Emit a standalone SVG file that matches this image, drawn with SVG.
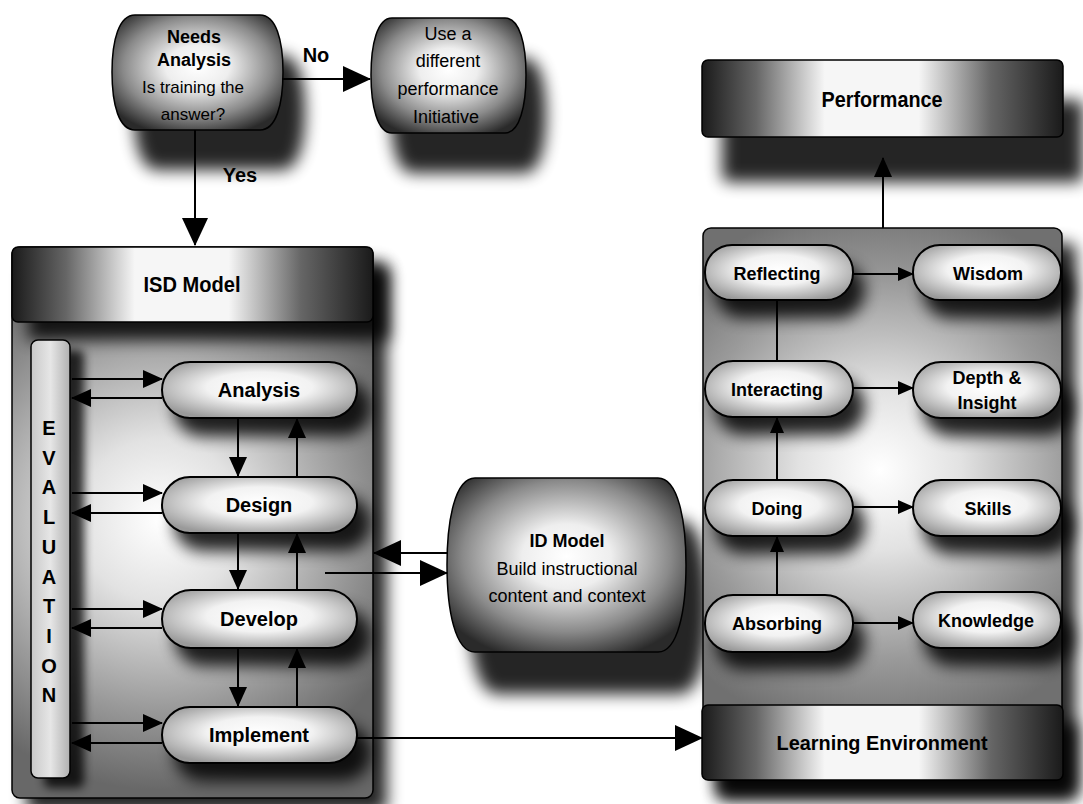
<svg xmlns="http://www.w3.org/2000/svg" width="1083" height="804" viewBox="0 0 1083 804">
<style>
.t{font-family:"Liberation Sans",Arial,Helvetica,sans-serif;fill:#000;text-anchor:middle}
.b{font-weight:bold}
.ln{stroke:#000;stroke-width:2;fill:none}
.pill{fill:url(#pillG);stroke:#000;stroke-width:2}
.brl{fill:url(#barrelG);stroke:#000;stroke-width:1.5}
.hdr{fill:url(#hdrG);stroke:#000;stroke-width:1.5}
.sh{fill:#000;filter:url(#blur);opacity:.85}
.sh2{fill:#000;filter:url(#blur2);opacity:.8}
</style>
<defs>
<filter id="blur" x="-30%" y="-30%" width="160%" height="160%"><feGaussianBlur stdDeviation="8"/></filter>
<filter id="blur2" x="-30%" y="-30%" width="160%" height="160%"><feGaussianBlur stdDeviation="5"/></filter>
<radialGradient id="pillG" cx="0.5" cy="0.45" r="0.6"><stop offset="0" stop-color="#fff"/><stop offset="0.45" stop-color="#f2f2f2"/><stop offset="1" stop-color="#9a9a9a"/></radialGradient>
<radialGradient id="barrelG" cx="0.5" cy="0.45" r="0.62"><stop offset="0" stop-color="#fff"/><stop offset="0.3" stop-color="#eee"/><stop offset="0.7" stop-color="#8a8a8a"/><stop offset="1" stop-color="#2a2a2a"/></radialGradient>
<linearGradient id="hdrG" x1="0" y1="0" x2="1" y2="0"><stop offset="0" stop-color="#1a1a1a"/><stop offset="0.15" stop-color="#666"/><stop offset="0.34" stop-color="#f6f6f6"/><stop offset="0.6" stop-color="#f6f6f6"/><stop offset="0.8" stop-color="#666"/><stop offset="1" stop-color="#1a1a1a"/></linearGradient>
<linearGradient id="evalG" x1="0" y1="0" x2="1" y2="0"><stop offset="0" stop-color="#c8c8c8"/><stop offset="0.5" stop-color="#e6e6e6"/><stop offset="1" stop-color="#b0b0b0"/></linearGradient>
<radialGradient id="isdBg" gradientUnits="userSpaceOnUse" cx="160" cy="520" r="270"><stop offset="0" stop-color="#fff"/><stop offset="0.3" stop-color="#e2e2e2"/><stop offset="0.7" stop-color="#9a9a9a"/><stop offset="1" stop-color="#686868"/></radialGradient>
<radialGradient id="rBg" gradientUnits="userSpaceOnUse" cx="880" cy="470" r="270"><stop offset="0" stop-color="#fff"/><stop offset="0.3" stop-color="#e2e2e2"/><stop offset="0.7" stop-color="#9a9a9a"/><stop offset="1" stop-color="#707070"/></radialGradient>
<marker id="ab" markerUnits="userSpaceOnUse" markerWidth="28" markerHeight="26" viewBox="0 0 28 26" refX="27" refY="13" orient="auto"><path d="M0,0L28,13L0,26z"/></marker>
<marker id="am" markerUnits="userSpaceOnUse" markerWidth="20" markerHeight="18" viewBox="0 0 20 18" refX="19" refY="9" orient="auto"><path d="M0,0L20,9L0,18z"/></marker>
<marker id="as" markerUnits="userSpaceOnUse" markerWidth="16" markerHeight="14" viewBox="0 0 16 14" refX="15" refY="7" orient="auto"><path d="M0,0L16,7L0,14z"/></marker>
</defs>
<rect width="1083" height="804" fill="#fff"/>

<g id="needs-analysis">
<path class="sh" transform="translate(22,40)" d="M135 15H260C276 15 283 40 283 72C283 105 276 130 260 130H135C119 130 112 105 112 72C112 40 119 15 135 15Z"/>
<path class="brl" d="M135 15H260C276 15 283 40 283 72C283 105 276 130 260 130H135C119 130 112 105 112 72C112 40 119 15 135 15Z"/>
<text class="t b" x="194" y="43" font-size="18">Needs</text>
<text class="t b" x="194" y="66" font-size="18">Analysis</text>
<text class="t" x="193" y="93" font-size="17">Is training the</text>
<text class="t" x="193" y="120" font-size="17">answer?</text>
</g>

<g id="different-initiative">
<path class="sh" transform="translate(20,40)" d="M392 18H505C520 18 526 45 526 75C526 105 520 133 505 133H392C377 133 371 105 371 75C371 45 377 18 392 18Z"/>
<path class="brl" d="M392 18H505C520 18 526 45 526 75C526 105 520 133 505 133H392C377 133 371 105 371 75C371 45 377 18 392 18Z"/>
<text class="t" x="448" y="40" font-size="18">Use a</text>
<text class="t" x="448" y="67" font-size="18">different</text>
<text class="t" x="448" y="95" font-size="18">performance</text>
<text class="t" x="446" y="123" font-size="18">Initiative</text>
</g>

<g id="isd-model">
<rect class="sh" x="26" y="262" width="361" height="551" rx="8" opacity=".6"/>
<rect x="12" y="247" width="361" height="551" rx="8" fill="url(#isdBg)" stroke="#000" stroke-width="1.5"/>
<rect class="sh" x="28" y="268" width="361" height="72"/>
<rect class="hdr" x="12" y="247" width="361" height="75" rx="6"/>
<text class="t b" x="192" y="292" font-size="22" textLength="97" lengthAdjust="spacingAndGlyphs">ISD Model</text>
</g>

<g id="evaluation">
<rect class="sh2" x="44" y="350" width="40" height="438" rx="6"/>
<rect x="31" y="340" width="39" height="438" rx="7" fill="url(#evalG)" stroke="#000" stroke-width="1.5"/>
<text class="t b" x="49" font-size="20"><tspan x="49" y="435">E</tspan><tspan x="49" y="465">V</tspan><tspan x="49" y="494">A</tspan><tspan x="49" y="524">L</tspan><tspan x="49" y="554">U</tspan><tspan x="49" y="584">A</tspan><tspan x="49" y="613">T</tspan><tspan x="49" y="643">I</tspan><tspan x="49" y="673">O</tspan><tspan x="49" y="702">N</tspan></text>
</g>

<g id="analysis">
<rect class="sh" x="174" y="380" width="197" height="56" rx="28"/>
<rect class="pill" x="162" y="362" width="195" height="56" rx="28"/>
<text class="t b" x="259" y="397" font-size="20">Analysis</text>
</g>
<g id="design">
<rect class="sh" x="174" y="495" width="197" height="56" rx="28"/>
<rect class="pill" x="162" y="477" width="195" height="56" rx="28"/>
<text class="t b" x="259" y="512" font-size="20">Design</text>
</g>
<g id="develop">
<rect class="sh" x="174" y="608" width="197" height="58" rx="29"/>
<rect class="pill" x="162" y="590" width="195" height="58" rx="29"/>
<text class="t b" x="259" y="626" font-size="20">Develop</text>
</g>
<g id="implement">
<rect class="sh" x="174" y="725" width="197" height="56" rx="28"/>
<rect class="pill" x="162" y="707" width="195" height="56" rx="28"/>
<text class="t b" x="259" y="742" font-size="20">Implement</text>
</g>

<g id="id-model">
<path class="sh" transform="translate(22,42)" d="M475 478H658C678 478 686 520 686 565C686 610 678 652 658 652H475C455 652 447 610 447 565C447 520 455 478 475 478Z"/>
<path class="brl" d="M475 478H658C678 478 686 520 686 565C686 610 678 652 658 652H475C455 652 447 610 447 565C447 520 455 478 475 478Z"/>
<text class="t b" x="567" y="547" font-size="18">ID Model</text>
<text class="t" x="567" y="575" font-size="18">Build instructional</text>
<text class="t" x="567" y="602" font-size="18">content and context</text>
</g>

<g id="performance">
<rect class="sh" x="722" y="100" width="361" height="82" rx="6"/>
<rect class="hdr" x="702" y="60" width="361" height="77" rx="6"/>
<text class="t b" x="882" y="107" font-size="22" textLength="121" lengthAdjust="spacingAndGlyphs">Performance</text>
</g>

<g id="learning-container">
<rect class="sh" x="717" y="243" width="359" height="552" rx="8" opacity=".6"/>
<rect x="703" y="228" width="359" height="552" rx="8" fill="url(#rBg)" stroke="#000" stroke-width="1.5"/>
</g>

<g id="reflecting">
<rect class="sh" x="715" y="263" width="150" height="55" rx="27"/>
<rect class="pill" x="705" y="245" width="148" height="55" rx="27"/>
<text class="t b" x="777" y="280" font-size="18">Reflecting</text>
</g>
<g id="wisdom">
<rect class="sh" x="923" y="263" width="150" height="55" rx="27"/>
<rect class="pill" x="913" y="245" width="148" height="55" rx="27"/>
<text class="t b" x="988" y="280" font-size="18">Wisdom</text>
</g>
<g id="interacting">
<rect class="sh" x="715" y="379" width="150" height="56" rx="28"/>
<rect class="pill" x="705" y="361" width="148" height="56" rx="28"/>
<text class="t b" x="777" y="396" font-size="18">Interacting</text>
</g>
<g id="depth-insight">
<rect class="sh" x="923" y="380" width="150" height="56" rx="28"/>
<rect class="pill" x="913" y="362" width="148" height="56" rx="28"/>
<text class="t b" x="987" y="384" font-size="18">Depth &amp;</text>
<text class="t b" x="987" y="409" font-size="18">Insight</text>
</g>
<g id="doing">
<rect class="sh" x="715" y="498" width="150" height="56" rx="28"/>
<rect class="pill" x="705" y="480" width="148" height="56" rx="28"/>
<text class="t b" x="777" y="515" font-size="18">Doing</text>
</g>
<g id="skills">
<rect class="sh" x="923" y="498" width="150" height="56" rx="28"/>
<rect class="pill" x="913" y="480" width="148" height="56" rx="28"/>
<text class="t b" x="988" y="515" font-size="18">Skills</text>
</g>
<g id="absorbing">
<rect class="sh" x="715" y="613" width="150" height="57" rx="28"/>
<rect class="pill" x="705" y="595" width="148" height="57" rx="28"/>
<text class="t b" x="777" y="630" font-size="18">Absorbing</text>
</g>
<g id="knowledge">
<rect class="sh" x="923" y="610" width="150" height="56" rx="28"/>
<rect class="pill" x="913" y="592" width="148" height="56" rx="28"/>
<text class="t b" x="986" y="627" font-size="18">Knowledge</text>
</g>

<g id="learning-environment">
<rect class="sh" x="717" y="722" width="361" height="78" rx="6"/>
<rect class="hdr" x="702" y="705" width="361" height="75" rx="6"/>
<text class="t b" x="882" y="750" font-size="21" textLength="211" lengthAdjust="spacingAndGlyphs">Learning Environment</text>
</g>

<g id="connectors">
<path class="ln" d="M282 79H370" marker-end="url(#ab)"/>
<text class="t b" x="316" y="62" font-size="20">No</text>
<path class="ln" d="M195 130V245" marker-end="url(#ab)"/>
<text class="t b" x="240" y="182" font-size="20">Yes</text>

<path class="ln" d="M72 379H162" marker-end="url(#am)"/>
<path class="ln" d="M162 398H72" marker-end="url(#am)"/>
<path class="ln" d="M72 493H162" marker-end="url(#am)"/>
<path class="ln" d="M162 513H72" marker-end="url(#am)"/>
<path class="ln" d="M72 609H162" marker-end="url(#am)"/>
<path class="ln" d="M162 628H72" marker-end="url(#am)"/>
<path class="ln" d="M72 723H162" marker-end="url(#am)"/>
<path class="ln" d="M162 743H72" marker-end="url(#am)"/>

<path class="ln" d="M238 418V476" marker-end="url(#am)"/>
<path class="ln" d="M238 533V589" marker-end="url(#am)"/>
<path class="ln" d="M238 648V706" marker-end="url(#am)"/>
<path class="ln" d="M297 477V419" marker-end="url(#am)"/>
<path class="ln" d="M297 590V534" marker-end="url(#am)"/>
<path class="ln" d="M297 707V649" marker-end="url(#am)"/>

<path class="ln" d="M448 553H374" marker-end="url(#ab)"/>
<path class="ln" d="M325 573H447" marker-end="url(#ab)"/>
<path class="ln" d="M357 738H702" marker-end="url(#ab)"/>

<path class="ln" d="M883 228V158" marker-end="url(#am)"/>

<path class="ln" d="M853 274H913" marker-end="url(#as)"/>
<path class="ln" d="M853 388H913" marker-end="url(#as)"/>
<path class="ln" d="M853 507H913" marker-end="url(#as)"/>
<path class="ln" d="M853 623H913" marker-end="url(#as)"/>
<path class="ln" d="M777 361V300"/>
<path class="ln" d="M777 480V418" marker-end="url(#as)"/>
<path class="ln" d="M777 595V537" marker-end="url(#as)"/>
</g>
</svg>
